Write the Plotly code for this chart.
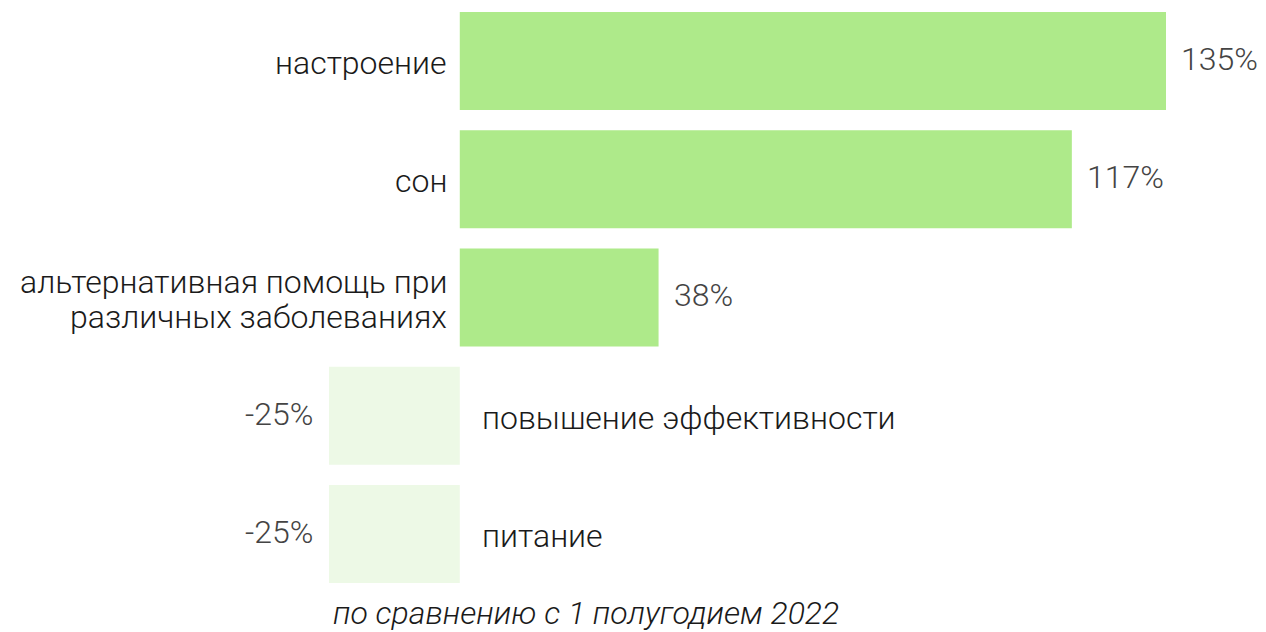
import plotly.graph_objects as go

categories = ["настроение", "сон", "альтернативная помощь при<br>различных заболеваниях",
              "повышение эффективности", "питание"]
values = [135, 117, 38, -25, -25]
value_labels = ["135%", "117%", "38%", "-25%", "-25%"]
subtitle = "по сравнению с 1 полугодием 2022"

POS_COLOR = "#AEEA8A"
NEG_COLOR = "#EDF9E6"
FONT = "Roboto"
CAT_SIZE = 32
VAL_SIZE = 32
LINE_H = 35

colors = [POS_COLOR if v >= 0 else NEG_COLOR for v in values]
idx = list(range(len(categories)))

fig = go.Figure(go.Bar(
    y=idx, x=values, orientation="h",
    marker=dict(color=colors, line=dict(width=0)),
    hoverinfo="skip",
))

cat_font = dict(family=FONT, size=CAT_SIZE, color="#1a1a1a", weight=300)
val_font = dict(family=FONT, size=VAL_SIZE, color="#444444", weight=300)

annotations = []
for i, cat, v, lab in zip(idx, categories, values, value_labels):
    lines = cat.split("<br>")
    n = len(lines)
    for k, line in enumerate(lines):
        ys = (((n - 1) / 2) - k) * LINE_H - 2
        if v >= 0:
            annotations.append(dict(x=0, y=i, xref="x", yref="y", text=line, showarrow=False,
                                    xanchor="right", xshift=-11, yshift=ys, font=cat_font))
        else:
            annotations.append(dict(x=0, y=i, xref="x", yref="y", text=line, showarrow=False,
                                    xanchor="left", xshift=20, yshift=ys, font=cat_font))
    if v >= 0:
        annotations.append(dict(x=v, y=i, xref="x", yref="y", text=lab, showarrow=False,
                                xanchor="left", xshift=13, yshift=2, font=val_font))
    else:
        annotations.append(dict(x=v, y=i, xref="x", yref="y", text=lab, showarrow=False,
                                xanchor="right", xshift=-14, yshift=2, font=val_font))

annotations.append(dict(x=0.307, y=0, xref="paper", yref="paper", text=subtitle,
                        showarrow=False, xanchor="center", yanchor="middle", yshift=-20,
                        font=dict(family=FONT, size=CAT_SIZE, color="#1a1a1a", weight=300,
                                  style="italic")))

fig.update_layout(
    width=1258, height=624,
    margin=dict(l=321, r=100, t=0, b=39),
    paper_bgcolor="white", plot_bgcolor="white",
    bargap=0.17,
    showlegend=False,
    xaxis=dict(range=[-25, 135], visible=False, fixedrange=True),
    yaxis=dict(range=[4.499, -0.448], visible=False, fixedrange=True),
    annotations=annotations,
)

fig.write_html("out.html")
